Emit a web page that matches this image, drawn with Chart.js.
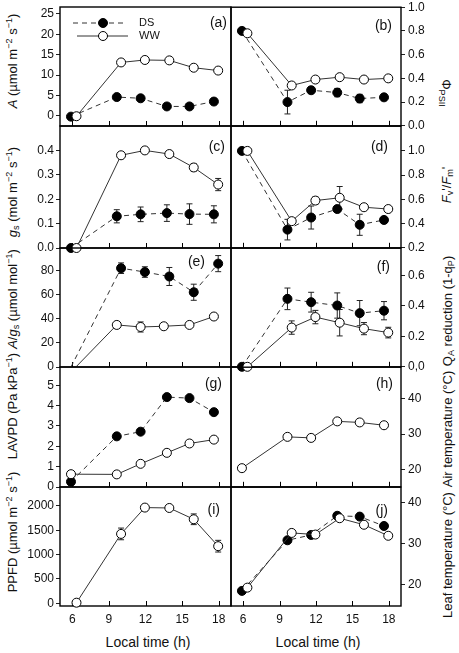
<!DOCTYPE html>
<html>
<head>
<meta charset="utf-8">
<script src="https://cdn.jsdelivr.net/npm/chart.js@4.4.0/dist/chart.umd.min.js"></script>
<style>
  body { margin: 0; width: 459px; height: 653px; position: relative; overflow: hidden; background: #fff;
         font-family: "Liberation Sans", Arial, sans-serif; color: #111; }
  canvas { position: absolute; }
  .ttl { position: absolute; white-space: nowrap; font-size: 13px; line-height: 13px;
         transform: translate(-50%, -50%) rotate(-90deg); }
  .ttl.cw { transform: translate(-50%, -50%) rotate(90deg); }
  .xt { position: absolute; white-space: nowrap; font-size: 14px; transform: translate(-50%, -50%); }
  sup, sub { font-size: 70%; line-height: 0; }
  sup { vertical-align: 0.45em; }
  sub { vertical-align: -0.3em; }
</style>
</head>
<body>

<div class="ttl" style="left:12px;top:61px"><i>A</i> (µmol m<sup>−2</sup> s<sup>−1</sup>)</div>
<div class="ttl" style="left:12px;top:192px"><i>g</i><sub>s</sub> (mol m<sup>−2</sup> s<sup>−1</sup>)</div>
<div class="ttl" style="left:12px;top:299px"><i>A</i>/<i>g</i><sub>s</sub> (µmol mol<sup>−1</sup>)</div>
<div class="ttl" style="left:12px;top:406px">LAVPD (Pa kPa<sup>−1</sup>)</div>
<div class="ttl" style="left:12px;top:532px">PPFD (µmol m<sup>−2</sup> s<sup>−1</sup>)</div>

<div class="ttl cw" style="left:446px;top:93px">Φ<sub>PSII</sub></div>
<div class="ttl" style="left:446px;top:185px"><i>F</i><sub>v</sub>'/<i>F</i><sub>m</sub>'</div>
<div class="ttl" style="left:447px;top:311px">Q<sub>A</sub> reduction (1-q<sub>P</sub>)</div>
<div class="ttl" style="left:447px;top:429px">Air temperature (°C)</div>
<div class="ttl" style="left:447px;top:555px">Leaf temperature (°C)</div>

<div class="xt" style="left:148px;top:642px">Local time (h)</div>
<div class="xt" style="left:318px;top:642px">Local time (h)</div>

<script>
Chart.defaults.animation = false;
Chart.defaults.font.family = '"Liberation Sans", Arial, sans-serif';
Chart.defaults.font.size = 12;
Chart.defaults.color = '#111';

// ---------- data ----------
const timeTicks = [6, 9, 12, 15, 18];
const dsTime = [5.9, 9.65, 11.6, 13.75, 15.6, 17.6];
const wwTime = [6.35, 10, 11.95, 13.95, 15.95, 17.95];
const dsTimeE = [5.9, 10, 11.95, 13.95, 15.95, 17.95];
const wwTimeE = [6.3, 9.65, 11.6, 13.5, 15.6, 17.6];

// (a) net photosynthesis
const aDS = [-0.2, 4.6, 4.3, 2.3, 2.3, 3.5];
const aWW = [-0.1, 13.1, 13.7, 13.6, 11.8, 11.1];
const aTicks = [0, 5, 10, 15, 20, 25];
// (b) PhiPSII
const bDS = [0.80, 0.20, 0.30, 0.28, 0.23, 0.24];
const bDSerr = [0, 0.10, 0.025, 0.035, 0.035, 0.012];
const bWW = [0.78, 0.34, 0.39, 0.41, 0.39, 0.40];
const bTicks = [0, 0.2, 0.4, 0.6, 0.8, 1.0];
const bLabels = ['0.0', '0.2', '0.4', '0.6', '0.8', '1.0'];
// (c) stomatal conductance
const cDS = [0, 0.13, 0.138, 0.143, 0.139, 0.138];
const cDSerr = [0, 0.027, 0.03, 0.034, 0.042, 0.035];
const cWW = [0, 0.38, 0.40, 0.385, 0.33, 0.26];
const cWWerr = [0, 0, 0, 0.012, 0.015, 0.025];
const cTicks = [0, 0.1, 0.2, 0.3, 0.4];
const cLabels = ['0.0', '0.1', '0.2', '0.3', '0.4'];
// (d) Fv'/Fm'
const dDS = [1.0, 0.35, 0.45, 0.52, 0.39, 0.43];
const dDSerr = [0, 0.085, 0.095, 0.02, 0.087, 0.02];
const dWW = [1.0, 0.42, 0.59, 0.613, 0.535, 0.52];
const dWWerr = [0, 0.02, 0.03, 0.093, 0.01, 0.01];
const dTicks = [0.2, 0.4, 0.6, 0.8, 1.0];
const dLabels = ['0.2', '0.4', '0.6', '0.8', '1.0'];
// (e) A/gs
const eDS = [0, 82.2, 79, 75.3, 62.2, 86];
const eDSerr = [0, 4.4, 4.4, 7.5, 6.7, 6.7];
const eWW = [0, 35, 33.3, 33.9, 35, 42];
const eWWerr = [0, 1.5, 4.2, 1.5, 1.5, 1.5];
const eTicks = [0, 20, 40, 60, 80];
// (f) QA reduction
const fDS = [0, 0.447, 0.425, 0.403, 0.353, 0.369];
const fDSerr = [0, 0.071, 0.065, 0.083, 0.083, 0.06];
const fWW = [0, 0.258, 0.327, 0.29, 0.251, 0.225];
const fWWerr = [0, 0.044, 0.044, 0.087, 0.04, 0.035];
const fTicks = [0, 0.2, 0.4, 0.6];
const fLabels = ['0,0', '0.2', '0.4', '0.6'];
// (g) LAVPD
const gDS = [0.26, 2.49, 2.72, 4.42, 4.37, 3.68];
const gWW = [0.63, 0.62, 1.14, 1.68, 2.14, 2.33];
const gTicks = [0, 1, 2, 3, 4, 5];
// (h) air temperature
const hAir = [20.3, 29.2, 28.9, 33.6, 33.3, 32.5];
const hTicks = [20, 30, 40];
// (i) PPFD
const iPPFD = [13, 1426, 1967, 1959, 1727, 1174];
const iPPFDerr = [0, 120, 0, 30, 110, 120];
const iTicks = [0, 500, 1000, 1500, 2000];
// (j) leaf temperature
const jDS = [18.4, 30.8, 32.1, 36.8, 36.6, 34.3];
const jWW = [19.2, 32.6, 32.2, 36.2, 34.6, 31.9];
const jTicks = [20, 30, 40];

// ---------- layout ----------
const PAD = 10;
const XAXIS_H = 30;
const ROWS = [[7, 126], [126, 248], [248, 367], [367, 487], [487, 606]];

const pts = (xs, ys) => xs.map((x, i) => ({ x: x, y: ys[i] }));

function series(kind, xs, ys, errs, radius) {
  const ds = kind === 'DS';
  return {
    label: kind,
    data: pts(xs, ys),
    errors: errs,
    borderColor: '#333',
    borderWidth: 1,
    borderDash: ds ? [5, 4] : [],
    pointRadius: radius || 4.5,
    pointHoverRadius: 4.5,
    pointBackgroundColor: ds ? '#000' : '#fff',
    pointBorderColor: '#000',
    pointBorderWidth: 1,
    tension: 0,
    clip: false,
    order: ds ? 1 : 0
  };
}

// frame, inside ticks, error bars, panel letter, legend
const deco = {
  id: 'deco',
  beforeDatasetsDraw(chart, args, o) {
    const { ctx, chartArea: a, scales: { x, y } } = chart;
    ctx.save();
    ctx.strokeStyle = '#000';
    ctx.lineWidth = 1.4;
    ctx.strokeRect(a.left, a.top, a.right - a.left, a.bottom - a.top);
    ctx.lineWidth = 1;
    ctx.beginPath();
    timeTicks.forEach(t => {
      const px = Math.round(x.getPixelForValue(t)) + 0.5;
      ctx.moveTo(px, a.bottom);
      ctx.lineTo(px, a.bottom - 5);
    });
    ctx.stroke();
    ctx.strokeStyle = '#222';
    ctx.beginPath();
    chart.data.datasets.forEach(ds => {
      if (!ds.errors) return;
      ds.data.forEach((p, i) => {
        const e = ds.errors[i];
        if (!e) return;
        const px = x.getPixelForValue(p.x);
        const y1 = y.getPixelForValue(p.y - e);
        const y2 = y.getPixelForValue(p.y + e);
        ctx.moveTo(px, y1); ctx.lineTo(px, y2);
        ctx.moveTo(px - 3, y1); ctx.lineTo(px + 3, y1);
        ctx.moveTo(px - 3, y2); ctx.lineTo(px + 3, y2);
      });
    });
    ctx.stroke();
    ctx.restore();
  },
  afterDatasetsDraw(chart, args, o) {
    const { ctx, chartArea: a } = chart;
    ctx.save();
    ctx.fillStyle = '#111';
    ctx.font = '14px "Liberation Sans", Arial, sans-serif';
    ctx.textAlign = 'right';
    ctx.textBaseline = 'middle';
    ctx.fillText(o.label, a.right - o.dx, a.top + o.dy);
    if (o.legend) {
      const rows = [
        { ds: chart.data.datasets[0], y: a.top + 16, x0: a.left + 13, x1: a.left + 65 },
        { ds: chart.data.datasets[1], y: a.top + 29, x0: a.left + 17, x1: a.left + 68 }
      ];
      ctx.font = '11px "Liberation Sans", Arial, sans-serif';
      ctx.textAlign = 'left';
      rows.forEach(r => {
        ctx.strokeStyle = '#333';
        ctx.lineWidth = 1;
        ctx.setLineDash(r.ds.borderDash);
        ctx.beginPath();
        ctx.moveTo(r.x0, r.y); ctx.lineTo(r.x1, r.y);
        ctx.stroke();
        ctx.setLineDash([]);
        ctx.beginPath();
        ctx.arc(a.left + 43, r.y, 4.5, 0, Math.PI * 2);
        ctx.fillStyle = r.ds.pointBackgroundColor;
        ctx.fill();
        ctx.strokeStyle = '#000';
        ctx.stroke();
        ctx.fillStyle = '#111';
        ctx.fillText(r.ds.label, a.left + 79, r.y);
      });
    }
    ctx.restore();
  }
};

function panel(p) {
  const right = p.col === 1;
  const last = p.row === 4;
  const top = ROWS[p.row][0], bottom = ROWS[p.row][1];
  const cvLeft = right ? 231 - PAD : 0;
  const cvW = right ? 459 - cvLeft : 231 + PAD;
  const cvTop = top - PAD;
  const cvH = bottom - cvTop + (last ? XAXIS_H : PAD);
  const cv = document.createElement('canvas');
  cv.width = cvW;
  cv.height = cvH;
  cv.style.left = cvLeft + 'px';
  cv.style.top = cvTop + 'px';
  cv.style.width = cvW + 'px';
  cv.style.height = cvH + 'px';
  document.body.appendChild(cv);

  new Chart(cv, {
    type: 'line',
    data: { datasets: p.datasets },
    options: {
      responsive: false,
      devicePixelRatio: 1,
      animation: false,
      layout: { padding: { left: right ? PAD : 0, right: right ? 0 : PAD, top: PAD, bottom: last ? 0 : PAD } },
      plugins: {
        legend: { display: false },
        tooltip: { enabled: false },
        deco: { label: p.label, dx: p.dx, dy: p.dy, legend: !!p.legend }
      },
      scales: {
        x: {
          type: 'linear', min: 5, max: 19,
          afterBuildTicks: s => { s.ticks = timeTicks.map(v => ({ value: v })); },
          afterFit: s => { s.height = last ? XAXIS_H : 0; },
          grid: { display: false, drawTicks: false },
          border: { display: false },
          ticks: { display: last, padding: 6, autoSkip: false, maxRotation: 0, color: '#111', font: { size: 12 } }
        },
        y: {
          type: 'linear', position: right ? 'right' : 'left', min: p.min, max: p.max,
          afterBuildTicks: s => { s.ticks = p.ticks.map(v => ({ value: v })); },
          afterFit: s => { s.width = right ? 58 : 60; },
          grid: { display: true, drawOnChartArea: false, drawTicks: true, tickLength: 4, color: '#222' },
          border: { display: false },
          ticks: {
            autoSkip: false, padding: right ? 3 : 2, color: '#111', font: { size: 12 },
            callback: (v, i) => p.labels ? p.labels[i] : String(p.ticks[i])
          }
        }
      }
    },
    plugins: [deco]
  });
}

panel({ row: 0, col: 0, label: '(a)', dx: 4, dy: 16, legend: true, min: -2.5, max: 26.7, ticks: aTicks,
  datasets: [series('DS', dsTime, aDS), series('WW', wwTime, aWW)] });
panel({ row: 0, col: 1, label: '(b)', dx: 9, dy: 19, min: 0, max: 1.0, ticks: bTicks, labels: bLabels,
  datasets: [series('DS', dsTime, bDS, bDSerr), series('WW', wwTime, bWW)] });
panel({ row: 1, col: 0, label: '(c)', dx: 6, dy: 21, min: 0, max: 0.5, ticks: cTicks, labels: cLabels,
  datasets: [series('DS', dsTime, cDS, cDSerr), series('WW', wwTime, cWW, cWWerr)] });
panel({ row: 1, col: 1, label: '(d)', dx: 13, dy: 21, min: 0.2, max: 1.204, ticks: dTicks, labels: dLabels,
  datasets: [series('DS', dsTime, dDS, dDSerr), series('WW', wwTime, dWW, dWWerr)] });
panel({ row: 2, col: 0, label: '(e)', dx: 26, dy: 14, min: 0, max: 99, ticks: eTicks,
  datasets: [series('DS', dsTimeE, eDS, eDSerr, [0, 4.5, 4.5, 4.5, 4.5, 4.5]),
             series('WW', wwTimeE, eWW, eWWerr, [0, 4.5, 4.5, 4.5, 4.5, 4.5])] });
panel({ row: 2, col: 1, label: '(f)', dx: 11, dy: 19, min: 0, max: 0.78, ticks: fTicks, labels: fLabels,
  datasets: [series('DS', dsTime, fDS, fDSerr), series('WW', wwTime, fWW, fWWerr)] });
panel({ row: 3, col: 0, label: '(g)', dx: 9, dy: 17, min: 0, max: 5.9, ticks: gTicks,
  datasets: [series('DS', dsTime, gDS), series('WW', dsTime, gWW)] });
panel({ row: 3, col: 1, label: '(h)', dx: 8, dy: 17, min: 15, max: 49, ticks: hTicks,
  datasets: [series('WW', dsTime, hAir)] });
panel({ row: 4, col: 0, label: '(i)', dx: 11, dy: 23, min: -55, max: 2390, ticks: iTicks,
  datasets: [series('WW', wwTime, iPPFD, iPPFDerr)] });
panel({ row: 4, col: 1, label: '(j)', dx: 13, dy: 24, min: 14.7, max: 43.8, ticks: jTicks,
  datasets: [series('DS', dsTime, jDS), series('WW', wwTime, jWW)] });
</script>
</body>
</html>
